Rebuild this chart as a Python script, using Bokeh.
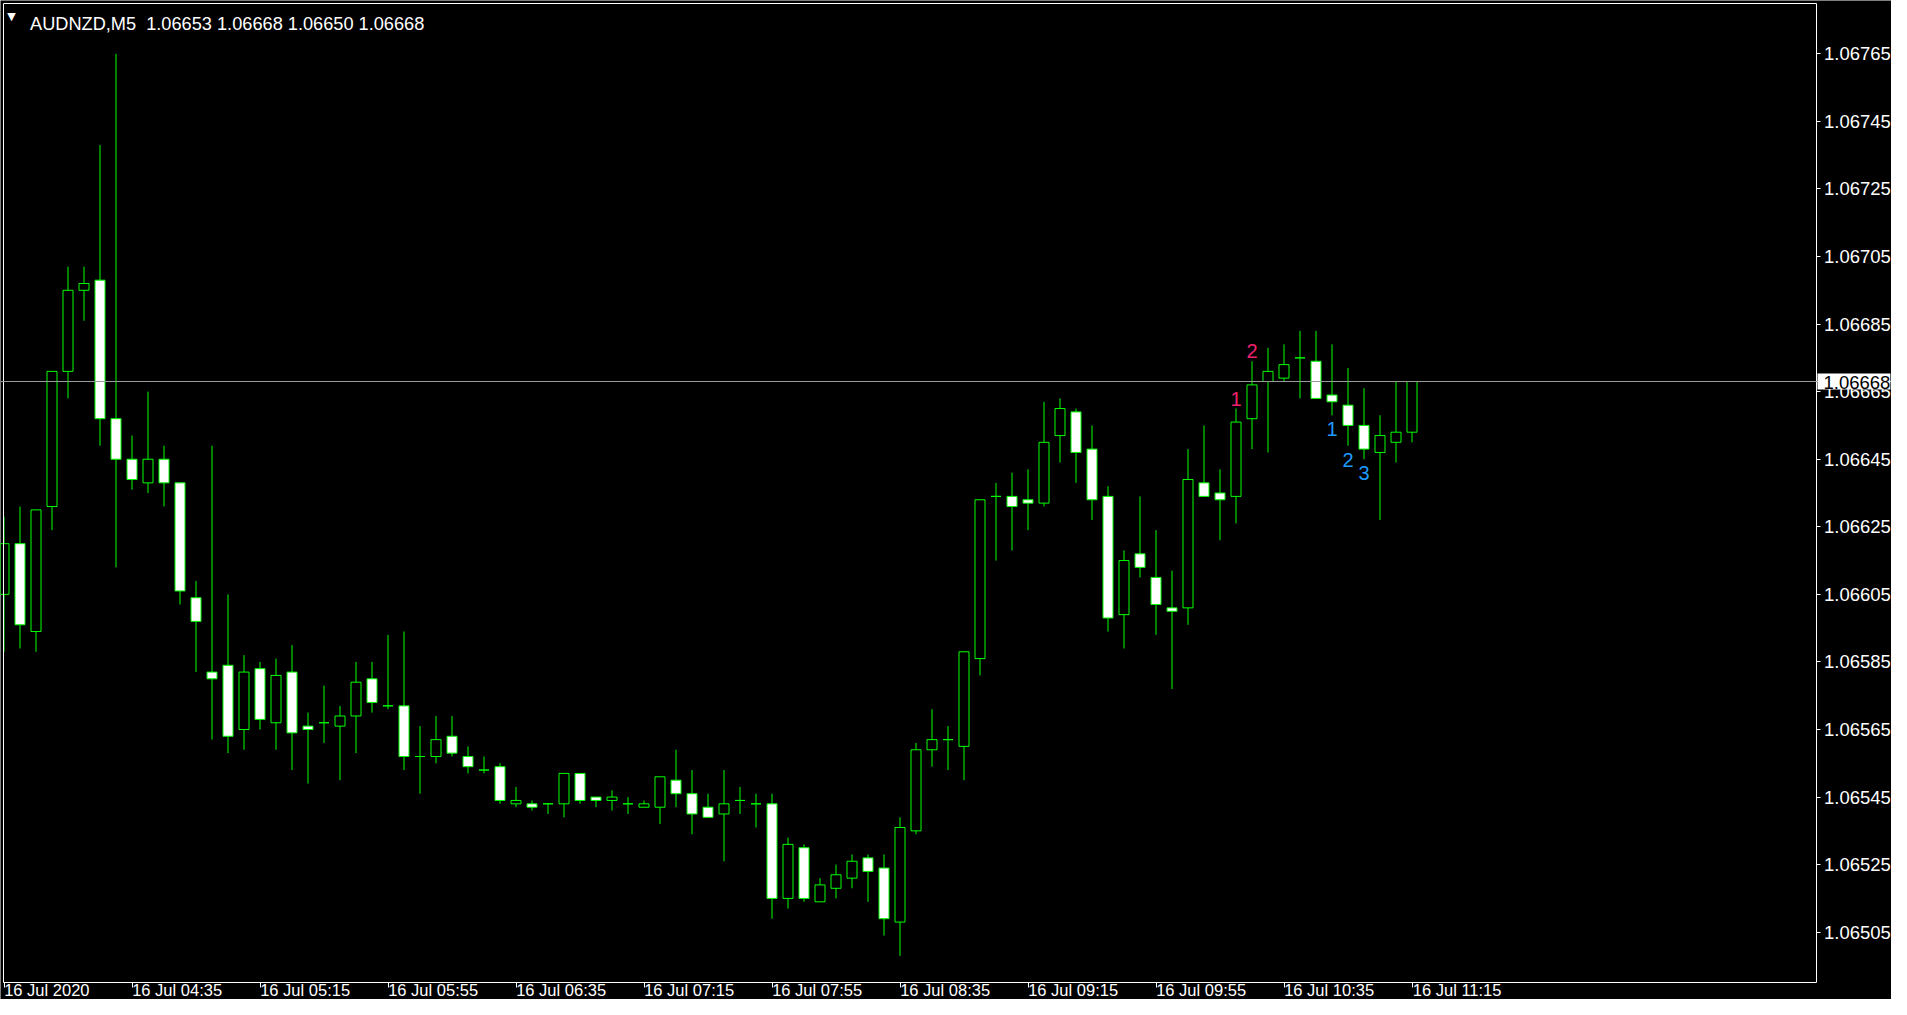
from bokeh.plotting import figure
from bokeh.models import Range1d, LinearAxis, FixedTicker, PrintfTickFormatter, Label, Span, ColumnDataSource
from bokeh.embed import file_html
from bokeh.resources import INLINE
from bokeh.core.properties import value

# ---------------- data ----------------
symbol = "AUDNZD,M5"

open_ = [1.06605, 1.06620, 1.06594, 1.06631, 1.06671, 1.06695, 1.06698, 1.06657, 1.06645, 1.06638,
         1.06645, 1.06638, 1.06604, 1.06582, 1.06584, 1.06565, 1.06583, 1.06567, 1.06582, 1.06566,
         1.06567, 1.06566, 1.06569, 1.06580, 1.06572, 1.06572, 1.06557, 1.06557, 1.06563, 1.06557,
         1.06553, 1.06554, 1.06543, 1.06543, 1.06543, 1.06543, 1.06552, 1.06545, 1.06544, 1.06543,
         1.06542, 1.06542, 1.06550, 1.06546, 1.06542, 1.06540, 1.06544, 1.06543, 1.06543, 1.06515,
         1.06530, 1.06514, 1.06518, 1.06521, 1.06527, 1.06524, 1.06508, 1.06535, 1.06559, 1.06562,
         1.06560, 1.06586, 1.06634, 1.06634, 1.06633, 1.06632, 1.06652, 1.06659, 1.06648, 1.06634,
         1.06599, 1.06617, 1.06610, 1.06601, 1.06601, 1.06638, 1.06635, 1.06634, 1.06657, 1.06668,
         1.06669, 1.06675, 1.06674, 1.06664, 1.06661, 1.06655, 1.06647, 1.06650, 1.06653]
high = [1.06628, 1.06631, 1.06630, 1.06671, 1.06702, 1.06702, 1.06738, 1.06765, 1.06652, 1.06665,
        1.06649, 1.06638, 1.06609, 1.06649, 1.06605, 1.06587, 1.06585, 1.06586, 1.06590, 1.06570,
        1.06578, 1.06572, 1.06585, 1.06585, 1.06593, 1.06594, 1.06566, 1.06569, 1.06569, 1.06560,
        1.06557, 1.06555, 1.06548, 1.06544, 1.06543, 1.06552, 1.06552, 1.06545, 1.06547, 1.06545,
        1.06544, 1.06551, 1.06559, 1.06553, 1.06546, 1.06553, 1.06548, 1.06546, 1.06546, 1.06533,
        1.06531, 1.06521, 1.06525, 1.06528, 1.06528, 1.06528, 1.06539, 1.06561, 1.06571, 1.06566,
        1.06588, 1.06633, 1.06638, 1.06641, 1.06642, 1.06662, 1.06663, 1.06660, 1.06655, 1.06637,
        1.06618, 1.06634, 1.06624, 1.06612, 1.06648, 1.06655, 1.06642, 1.06660, 1.06674, 1.06678,
        1.06679, 1.06683, 1.06683, 1.06679, 1.06672, 1.06666, 1.06658, 1.06668, 1.06668]
low = [1.06588, 1.06589, 1.06588, 1.06624, 1.06663, 1.06686, 1.06649, 1.06613, 1.06636, 1.06635,
       1.06631, 1.06602, 1.06582, 1.06562, 1.06558, 1.06559, 1.06565, 1.06559, 1.06553, 1.06549,
       1.06561, 1.06550, 1.06558, 1.06570, 1.06571, 1.06553, 1.06546, 1.06555, 1.06557, 1.06552,
       1.06552, 1.06543, 1.06542, 1.06541, 1.06540, 1.06539, 1.06543, 1.06542, 1.06541, 1.06540,
       1.06542, 1.06537, 1.06542, 1.06534, 1.06539, 1.06526, 1.06540, 1.06536, 1.06509, 1.06512,
       1.06514, 1.06514, 1.06515, 1.06518, 1.06514, 1.06504, 1.06498, 1.06534, 1.06554, 1.06553,
       1.06550, 1.06581, 1.06615, 1.06618, 1.06624, 1.06631, 1.06644, 1.06638, 1.06627, 1.06594,
       1.06589, 1.06610, 1.06593, 1.06577, 1.06596, 1.06634, 1.06621, 1.06626, 1.06648, 1.06647,
       1.06668, 1.06663, 1.06663, 1.06658, 1.06649, 1.06645, 1.06627, 1.06644, 1.06650]
close = [1.06620, 1.06596, 1.06630, 1.06671, 1.06695, 1.06697, 1.06657, 1.06645, 1.06639, 1.06645,
         1.06638, 1.06606, 1.06597, 1.06580, 1.06563, 1.06582, 1.06568, 1.06581, 1.06564, 1.06565,
         1.06567, 1.06569, 1.06579, 1.06573, 1.06572, 1.06557, 1.06557, 1.06562, 1.06558, 1.06554,
         1.06553, 1.06544, 1.06544, 1.06542, 1.06543, 1.06552, 1.06544, 1.06544, 1.06545, 1.06543,
         1.06543, 1.06551, 1.06546, 1.06540, 1.06539, 1.06543, 1.06544, 1.06543, 1.06515, 1.06531,
         1.06515, 1.06519, 1.06522, 1.06526, 1.06523, 1.06509, 1.06536, 1.06559, 1.06562, 1.06562,
         1.06588, 1.06633, 1.06634, 1.06631, 1.06632, 1.06650, 1.06660, 1.06647, 1.06633, 1.06598,
         1.06615, 1.06613, 1.06602, 1.06600, 1.06639, 1.06634, 1.06633, 1.06656, 1.06667, 1.06671,
         1.06673, 1.06675, 1.06663, 1.06662, 1.06655, 1.06648, 1.06652, 1.06653, 1.06668]

time_tick_index = [0, 8, 16, 24, 32, 40, 48, 56, 64, 72, 80, 88]
time_tick_labels = ["16 Jul 2020", "16 Jul 04:35", "16 Jul 05:15", "16 Jul 05:55", "16 Jul 06:35",
                    "16 Jul 07:15", "16 Jul 07:55", "16 Jul 08:35", "16 Jul 09:15", "16 Jul 09:55",
                    "16 Jul 10:35", "16 Jul 11:15"]
price_ticks = [1.06505, 1.06525, 1.06545, 1.06565, 1.06585, 1.06605, 1.06625, 1.06645,
               1.06665, 1.06685, 1.06705, 1.06725, 1.06745, 1.06765]
current_price = 1.06668

up_mark_index = [77, 78]
up_mark_text = ["1", "2"]
down_mark_index = [83, 84, 85]
down_mark_text = ["1", "2", "3"]

# ---------------- layout calibration (pixels of the 1891x999 canvas) ----------------
W, H = 1891, 999
BAR_PX = 16.0          # spacing of bars
BAR0_PX = 3.5          # centre of first bar
PX_PER_UNIT = 337850.0  # vertical pixels per price unit
REF_PRICE, REF_PY = 1.06765, 53.3
PLOT_L, PLOT_T, PLOT_R, PLOT_B = 2.5, 2.5, 1815.5, 981.5   # MT4 chart frame


def xd(px):
    return (px - BAR0_PX) / BAR_PX


def yd(py):
    return REF_PRICE - (py - REF_PY) / PX_PER_UNIT


GREEN = "#00ff00"
FONT = "Liberation Sans"
FS = "18.5px"
DATE_FS_PX = 16.5

# Arial/Liberation advance widths (em/1000) for the date labels
_ADV = {" ": 278, ":": 278, "J": 500, "u": 556, "l": 222}


def text_w(s, size):
    return sum(_ADV.get(ch, 556) for ch in s) / 1000.0 * size


idx = list(range(len(open_)))
src = ColumnDataSource(dict(
    x=idx, open=open_, high=high, low=low, close=close,
    top=[max(o, c) for o, c in zip(open_, close)],
    bottom=[min(o, c) for o, c in zip(open_, close)],
    fill=["black" if c >= o else "white" for o, c in zip(open_, close)],
))

p = figure(width=W, height=H,
           x_range=Range1d(xd(0), xd(W)),
           y_range=Range1d(yd(H), yd(0)),
           output_backend="svg", toolbar_location=None,
           x_axis_location=None, y_axis_location=None,
           background_fill_color="black", border_fill_color="black",
           min_border=0, min_border_left=0, min_border_top=0,
           min_border_right=0, min_border_bottom=0)
p.outline_line_color = None
p.grid.visible = False


def frame_axis(side, loc, bounds):
    ax = LinearAxis(ticker=FixedTicker(ticks=[]), fixed_location=loc, bounds=bounds)
    ax.axis_line_color = "white"
    ax.major_tick_line_color = None
    ax.minor_tick_line_color = None
    p.add_layout(ax, side)
    return ax


# frame lines (top / left)
frame_axis("above", yd(PLOT_T), (xd(PLOT_L), xd(PLOT_R)))
frame_axis("left", xd(PLOT_L), (yd(PLOT_B), yd(PLOT_T)))

# right price axis
yax = LinearAxis(ticker=FixedTicker(ticks=price_ticks),
                 formatter=PrintfTickFormatter(format="%.5f"),
                 fixed_location=xd(PLOT_R), bounds=(yd(PLOT_B), yd(PLOT_T)))
yax.axis_line_color = "white"
yax.major_tick_in = 0
yax.major_tick_out = 4
yax.minor_tick_in = 0
yax.minor_tick_out = 0
yax.major_tick_line_color = "white"
yax.major_label_text_color = "white"
yax.major_label_text_font = FONT
yax.major_label_text_font_size = FS
yax.major_label_standoff = 4
p.add_layout(yax, "right")

# bottom time axis: minor ticks mark the bars, major (tick-less) positions carry
# left-aligned date labels as in MT4
label_pos = []
for k, (ti, tl) in enumerate(zip(time_tick_index, time_tick_labels)):
    tick_px = BAR0_PX + BAR_PX * ti
    ink_left = tick_px + 2.0
    box_left = ink_left - 0.109 * DATE_FS_PX
    label_pos.append(xd(box_left + text_w(tl, DATE_FS_PX) / 2.0))
xax = LinearAxis(ticker=FixedTicker(ticks=label_pos, minor_ticks=time_tick_index),
                 fixed_location=yd(PLOT_B), bounds=(xd(PLOT_L), xd(PLOT_R)))
xax.major_label_overrides = {pos: tl for pos, tl in zip(label_pos, time_tick_labels)}
xax.axis_line_color = "white"
xax.major_tick_in = 0
xax.major_tick_out = 0
xax.major_tick_line_color = None
xax.minor_tick_in = 0
xax.minor_tick_out = 5
xax.minor_tick_line_color = "white"
xax.major_label_text_color = "white"
xax.major_label_text_font = FONT
xax.major_label_text_font_size = f"{DATE_FS_PX}px"
xax.major_label_standoff = -6
p.add_layout(xax, "below")

# current price line
p.add_layout(Span(location=current_price, dimension="width",
                  line_color="#9a9a9a", line_width=1))

# candles
p.segment(x0="x", y0="low", x1="x", y1="high", source=src, line_color=GREEN, line_width=1)
p.vbar(x="x", width=10 / BAR_PX, top="top", bottom="bottom", source=src,
       fill_color="fill", line_color=GREEN, line_width=1)

# wave count marks
p.text(x=up_mark_index, y=[high[i] for i in up_mark_index], text=up_mark_text,
       y_offset=-10, text_align="center", text_baseline="alphabetic",
       text_color="#f0206e", text_font=value(FONT), text_font_size="20px")
p.text(x=down_mark_index, y=[low[i] for i in down_mark_index], text=down_mark_text,
       y_offset=14, text_align="center", text_baseline="alphabetic",
       text_color="#1e9bff", text_font=value(FONT), text_font_size="20px")

# header
p.add_layout(Label(x=11, y=H - 15.5, x_units="screen", y_units="screen",
                   text="\u25bc", text_align="center", text_baseline="middle",
                   text_color="white", text_font="DejaVu Sans", text_font_size="11px"))
p.add_layout(Label(x=29.5, y=H - 23.3, x_units="screen", y_units="screen",
                   text=f"{symbol}\u00a0 {open_[-1]:.5f} {high[-1]:.5f} {low[-1]:.5f} {close[-1]:.5f}",
                   text_align="left", text_baseline="alphabetic",
                   text_color="white", text_font=FONT, text_font_size="18.2px"))

# current price box on the price scale
p.add_layout(Label(x=PLOT_R + 1.5, x_units="screen", y=current_price, y_units="data",
                   text=f"{current_price:.5f}", text_align="left", text_baseline="middle",
                   text_color="black", text_font=FONT, text_font_size=FS,
                   background_fill_color="white", padding=(6, 0, 2, 1)))

open("out.html", "w").write(file_html(p, INLINE))
